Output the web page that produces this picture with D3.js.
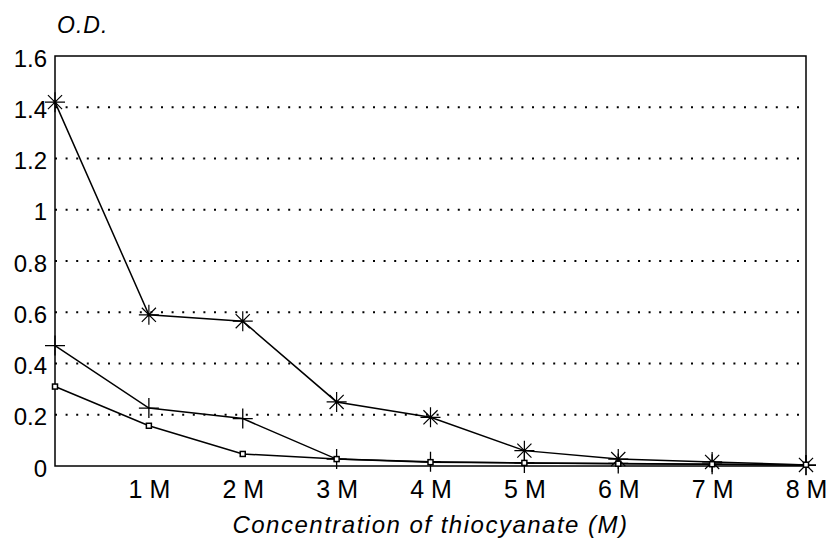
<!DOCTYPE html>
<html>
<head>
<meta charset="utf-8">
<script src="https://cdn.jsdelivr.net/npm/d3@7"></script>
<style>
  body { margin: 0; background: #fff; }
  svg { display: block; font-family: "Liberation Sans", Arial, sans-serif; }
</style>
</head>
<body>
<div id="chart"></div>
<script>
// concentration steps (M) and tick labels
const conc = [0, 1, 2, 3, 4, 5, 6, 7, 8];
const xTickLabels = ["", "1 M", "2 M", "3 M", "4 M", "5 M", "6 M", "7 M", "8 M"];
const yTicks = [0, 0.2, 0.4, 0.6, 0.8, 1, 1.2, 1.4, 1.6];

// O.D. readings per series
const starSeries = [1.42, 0.59, 0.565, 0.25, 0.19, 0.06, 0.027, 0.016, 0.004];
const plusSeries = [0.47, 0.226, 0.185, 0.027, 0.017, 0.012, 0.01, 0.007, 0.003];
const squareSeries = [0.31, 0.157, 0.047, 0.027, 0.015, 0.012, 0.009, 0.007, 0.005];

const W = 828, H = 548;
const margin = {top: 56, right: 22, bottom: 82, left: 55};
const width = W - margin.left - margin.right;
const height = H - margin.top - margin.bottom;

const svg = d3.select("#chart").append("svg")
  .attr("width", W)
  .attr("height", H);

const g = svg.append("g")
  .attr("transform", `translate(${margin.left},${margin.top})`);

const x = d3.scaleLinear().domain([0, 8]).range([0, width]);
const y = d3.scaleLinear().domain([0, 1.6]).range([height, 0]);

// dotted gridlines
g.selectAll(".grid")
  .data(yTicks.filter(d => d > 0 && d < 1.6))
  .enter().append("line")
  .attr("class", "grid")
  .attr("x1", 0).attr("x2", width)
  .attr("y1", d => y(d)).attr("y2", d => y(d))
  .attr("stroke", "#000")
  .attr("stroke-width", 2)
  .attr("stroke-dasharray", "2,8.6");

// frame
g.append("rect")
  .attr("width", width).attr("height", height)
  .attr("fill", "none")
  .attr("stroke", "#000")
  .attr("stroke-width", 1.5);

// y axis labels
const yAxis = g.append("g")
  .call(d3.axisLeft(y).tickValues(yTicks).tickSize(0).tickPadding(8)
    .tickFormat(d => d3.format("")(+d.toFixed(1))));
yAxis.select(".domain").remove();
yAxis.selectAll("text")
  .attr("font-size", "24px")
  .attr("dy", "0.42em")
  .attr("fill", "#000")
  .attr("font-family", "'Liberation Sans', Arial, sans-serif");

// x axis labels
const xAxis = g.append("g")
  .attr("transform", `translate(0,${height})`)
  .call(d3.axisBottom(x).tickValues(conc).tickSize(0).tickPadding(14)
    .tickFormat((d, i) => xTickLabels[i]));
xAxis.select(".domain").remove();
xAxis.selectAll("text")
  .attr("font-size", "25px")
  .attr("fill", "#000")
  .attr("font-family", "'Liberation Sans', Arial, sans-serif");

// axis titles
svg.append("text")
  .attr("x", 57).attr("y", 33)
  .attr("font-size", "23px")
  .attr("letter-spacing", "1px")
  .attr("font-style", "italic")
  .text("O.D.");

svg.append("text")
  .attr("x", margin.left + width / 2).attr("y", 533)
  .attr("text-anchor", "middle")
  .attr("font-size", "24px")
  .attr("letter-spacing", "1.5px")
  .attr("font-style", "italic")
  .text("Concentration of thiocyanate (M)");

const line = d3.line()
  .x((d, i) => x(conc[i]))
  .y(d => y(d));

[squareSeries, plusSeries, starSeries].forEach(s => {
  g.append("path")
    .datum(s)
    .attr("d", line)
    .attr("fill", "none")
    .attr("stroke", "#000")
    .attr("stroke-width", 1.5);
});

// star markers
const starR = 10;
const starPath = d3.range(4).map(k => {
  const a = k * Math.PI / 4;
  const dx = starR * Math.cos(a), dy = starR * Math.sin(a);
  return `M${-dx},${-dy}L${dx},${dy}`;
}).join("");
g.selectAll(".star")
  .data(starSeries)
  .enter().append("path")
  .attr("class", "star")
  .attr("transform", (d, i) => `translate(${x(conc[i])},${y(d)})`)
  .attr("d", starPath)
  .attr("stroke", "#000")
  .attr("stroke-width", 1.2);

// plus markers
const plusR = 10;
g.selectAll(".plus")
  .data(plusSeries)
  .enter().append("path")
  .attr("class", "plus")
  .attr("transform", (d, i) => `translate(${x(conc[i])},${y(d)})`)
  .attr("d", `M${-plusR},0L${plusR},0M0,${-plusR}L0,${plusR}`)
  .attr("stroke", "#000")
  .attr("stroke-width", 1.3);

// square markers
g.selectAll(".sq")
  .data(squareSeries)
  .enter().append("rect")
  .attr("class", "sq")
  .attr("x", (d, i) => x(conc[i]) - 2.5)
  .attr("y", d => y(d) - 2.5)
  .attr("width", 5).attr("height", 5)
  .attr("fill", "#fff")
  .attr("stroke", "#000")
  .attr("stroke-width", 1.5);
</script>
</body>
</html>
